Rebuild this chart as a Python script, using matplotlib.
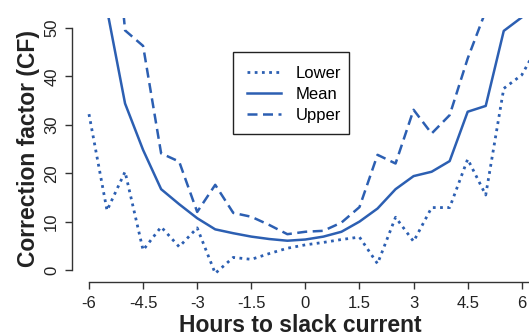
import numpy as np
import matplotlib.pyplot as plt
from matplotlib.patches import Rectangle

plt.rcParams['font.family'] = ['Liberation Sans', 'DejaVu Sans']

# hours relative to slack current, half-hour steps
hours = [-6, -5.5, -5, -4.5, -4, -3.5, -3, -2.5, -2, -1.5, -1, -0.5, 0,
         0.5, 1, 1.5, 2, 2.5, 3, 3.5, 4, 4.5, 5, 5.5, 6, 6.5]
lower = [32.2, 12.3, 20.3, 4.1, 8.9, 4.8, 8.7, -0.7, 2.6, 2.2, 3.4, 4.5, 5.2,
         5.7, 6.3, 6.8, 1.3, 10.9, 5.9, 12.9, 12.9, 22.9, 15.5, 37.5, 40.3, 47.0]
mean = [80.0, 53.8, 34.4, 24.8, 16.7, 13.6, 10.7, 8.4, 7.6, 6.9, 6.4, 6.05, 6.3,
        6.9, 7.9, 10.0, 12.7, 16.7, 19.4, 20.3, 22.5, 32.7, 33.9, 49.4, 52.2, 58.0]
upper = [100.0, 90.0, 49.5, 46.3, 24.1, 22.4, 12.0, 17.6, 11.8, 11.0, 9.3, 7.4, 7.9,
         8.1, 9.8, 13.0, 23.8, 22.0, 33.1, 28.2, 32.0, 43.7, 53.5, 75.0, 80.0, 85.0]

xticks = [-6, -4.5, -3, -1.5, 0, 1.5, 3, 4.5, 6]
xticklabels = ['-6', '-4.5', '-3', '-1.5', '0', '1.5', '3', '4.5', '6']
yticks = [0, 10, 20, 30, 40, 50]

col = '#2c5fb2'
axcol = '#333333'

fig = plt.figure(figsize=(5.29, 3.36), dpi=100)
ax = fig.add_axes([0.1355, 0.1676, 0.8645, 0.7779])

ax.plot(hours, lower, color=col, lw=2.0, ls=(0, (1, 1.6)), label='Lower')
ax.plot(hours, mean, color=col, lw=1.8, ls='-', label='Mean')
ax.plot(hours, upper, color=col, lw=1.8, ls=(0, (4, 2.2)), label='Upper')

ax.set_xlim(-6.48, 6.2)
ax.set_ylim(-2, 52)

# R-like axes: only left and bottom, bounded to the tick range
for s in ['top', 'right']:
    ax.spines[s].set_visible(False)
ax.spines['bottom'].set_position(('outward', 1.5))
ax.spines['bottom'].set_bounds(-6, 6.2)
ax.spines['left'].set_bounds(0, 50)
for s in ['bottom', 'left']:
    ax.spines[s].set_color(axcol)
    ax.spines[s].set_linewidth(1.0)

ax.set_xticks(xticks)
ax.set_xticklabels(xticklabels)
ax.set_yticks(yticks)
ax.set_yticklabels([str(v) for v in yticks], rotation=90, va='center')
ax.tick_params(axis='both', colors=axcol, labelcolor='#222222', labelsize=12,
               length=5, width=1.0)
ax.tick_params(axis='y', pad=4)
ax.tick_params(axis='x', pad=5)

ax.set_xlabel('Hours to slack current', fontsize=16.5, fontweight='bold',
              color='#222222', labelpad=2.5)
ax.set_ylabel('Correction factor (CF)', fontsize=16.5, fontweight='bold',
              color='#222222', labelpad=3)

# legend box drawn separately so its padding can be uneven
leg = ax.legend(loc='upper left', bbox_to_anchor=(0.4405, 0.846),
                bbox_transform=fig.transFigure, fontsize=12, frameon=False,
                borderaxespad=0, handlelength=2.0, handletextpad=0.9,
                labelspacing=0.36, borderpad=0.85)
fig.patches.append(Rectangle((233 / 529, 1 - 134.3 / 336), 115.7 / 529, 82.6 / 336,
                             transform=fig.transFigure, fill=False,
                             edgecolor='#222222', lw=1.0, zorder=5))

fig.savefig('out.png', dpi=100)
